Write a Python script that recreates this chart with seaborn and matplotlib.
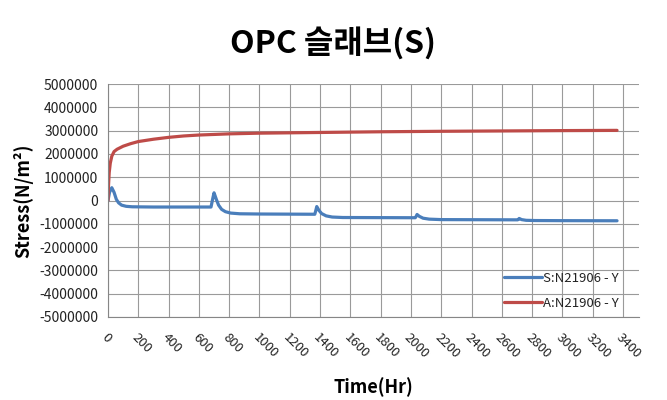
import matplotlib
matplotlib.use("Agg")
import matplotlib.pyplot as plt
import seaborn as sns
import pandas as pd
import numpy as np

# ---- data ----
s_time = [0, 10, 25, 40, 55, 70, 90, 120, 160, 300, 680,
          692, 700, 715, 730, 750, 775, 810, 870, 1000, 1365,
          1372, 1378, 1392, 1410, 1440, 1480, 1550, 2028,
          2034, 2040, 2055, 2080, 2120, 2200, 2705,
          2710, 2714, 2730, 2760, 2820, 3000, 3360]
s_vals = [0, 350000, 550000, 350000, 50000, -100000, -200000, -250000, -270000, -280000, -280000,
          100000, 330000, 50000, -200000, -380000, -480000, -540000, -570000, -580000, -590000,
          -420000, -260000, -420000, -560000, -660000, -710000, -730000, -740000,
          -680000, -600000, -680000, -760000, -800000, -820000, -830000,
          -800000, -770000, -820000, -850000, -860000, -865000, -870000]

a_time = [0, 3, 8, 15, 25, 40, 60, 100, 150, 200, 300, 400, 500, 600,
          800, 1000, 1400, 1800, 2200, 2600, 3000, 3360]
a_vals = [0, 600000, 1200000, 1600000, 1900000, 2100000, 2200000, 2330000, 2440000,
          2530000, 2630000, 2710000, 2770000, 2810000, 2860000, 2890000, 2920000,
          2950000, 2970000, 2985000, 3000000, 3010000]

series_names = ["S:N21906 - Y", "A:N21906 - Y"]
x_ticks = list(range(0, 3401, 200))
y_ticks = list(range(-5000000, 5000001, 1000000))

title = "OPC 슬래브(S)"
x_label = "Time(Hr)"
y_label = "Stress(N/m²)"

df = pd.concat([
    pd.DataFrame({"t": s_time, "v": s_vals, "series": series_names[0]}),
    pd.DataFrame({"t": a_time, "v": a_vals, "series": series_names[1]}),
], ignore_index=True)

sns.set_theme(style="white")
plt.rcParams['font.family'] = ['Noto Sans CJK KR', 'DejaVu Sans']

fig = plt.figure(figsize=(6.67, 4.0), dpi=100)
ax = fig.add_axes([108/667, 1-317/400, (639-108)/667, (317-84)/400])

palette = {series_names[0]: "#4A7EBB", series_names[1]: "#BE4B48"}
sns.lineplot(data=df, x="t", y="v", hue="series", palette=palette, ax=ax,
             linewidth=2.3, sort=False, estimator=None, legend=True)

ax.set_xlim(0, 3505)
ax.set_ylim(-5000000, 5000000)
ax.set_xticks(x_ticks)
ax.set_yticks(y_ticks)
ax.set_xticklabels([str(v) for v in x_ticks], rotation=-45, ha="left", va="top",
                   rotation_mode="anchor", fontsize=9.5, color="#222222")
ax.set_yticklabels([str(v) for v in y_ticks], fontsize=10, color="#222222")
ax.tick_params(axis="both", length=4, width=0.8, color="#868686", direction="out", pad=3)
ax.tick_params(axis="x", pad=6)

ax.grid(True, color="#9A9A9A", linewidth=0.8)
ax.set_axisbelow(True)
for side in ["top", "right"]:
    ax.spines[side].set_visible(False)
for side in ["left", "bottom"]:
    ax.spines[side].set_color("#868686")
    ax.spines[side].set_linewidth(0.8)

ax.set_xlabel(x_label, fontsize=13, fontweight="bold", labelpad=12, color="black")
ax.set_ylabel(y_label, fontsize=13, fontweight="bold", labelpad=4, color="black")
fig.text(0.5, 0.893, title, ha="center", va="center", fontsize=23, fontweight="bold",
         color="black")

leg = ax.legend(loc="lower right", bbox_to_anchor=(0.985, -0.02), frameon=False,
                fontsize=9.5, handlelength=2.9, handletextpad=0.1, labelspacing=0.9)
for text in leg.get_texts():
    text.set_color("#222222")
for line in leg.get_lines():
    line.set_linewidth(2.3)

fig.savefig("out.png", dpi=100)
